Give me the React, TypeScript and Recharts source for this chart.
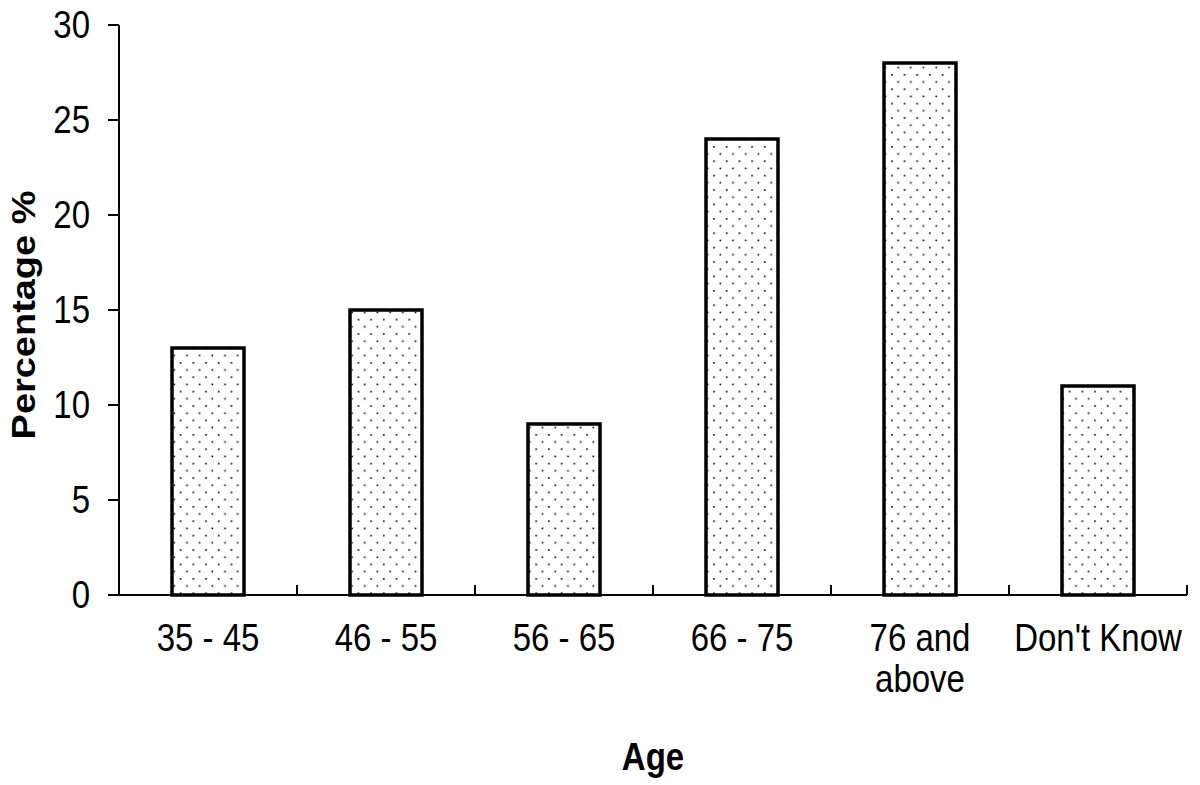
import React from "react";
import { BarChart, Bar, XAxis, YAxis } from "recharts";

// --- Data ---
const ageGroups = ["35 - 45", "46 - 55", "56 - 65", "66 - 75", "76 and above", "Don't Know"];
const percentages = [13, 15, 9, 24, 28, 11];
const yTicks = [0, 5, 10, 15, 20, 25, 30];

const chartData = ageGroups.map((age, i) => ({ age, value: percentages[i] }));

const FONT = "'Liberation Sans', Arial, sans-serif";
const STRETCH = 1.15; // the source text is a bit taller than it is wide

// custom x tick: label (wrapped at "and") plus tick marks on the category boundaries
const AgeTick = (props: any) => {
  const { x, y, payload, index } = props;
  const half = payload.offset || 0;
  const label: string = payload.value;
  const lines = label === "76 and above" ? ["76 and", "above"] : [label];
  const isLast = index === ageGroups.length - 1;
  return (
    <g>
      <line x1={x - half} x2={x - half} y1={y} y2={y - 10} stroke="#000" strokeWidth={2} />
      {isLast && <line x1={x + half} x2={x + half} y1={y} y2={y - 10} stroke="#000" strokeWidth={2} />}
      <text
        transform={`translate(${x} ${y + 56}) scale(1 ${STRETCH})`}
        textAnchor="middle"
        fontFamily={FONT}
        fontSize={33}
        fill="#000"
      >
        {lines.map((l, i) => (
          <tspan key={i} x={0} dy={i === 0 ? 0 : 41 / STRETCH}>
            {l}
          </tspan>
        ))}
      </text>
    </g>
  );
};

const PctTick = (props: any) => {
  const { x, y, payload } = props;
  return (
    <text
      transform={`translate(${x} ${y}) scale(1 ${STRETCH})`}
      textAnchor="end"
      dominantBaseline="central"
      fontFamily={FONT}
      fontSize={33}
      fill="#000"
    >
      {payload.value}
    </text>
  );
};

export default function App() {
  return (
    <div style={{ position: "absolute", left: 0, top: 0, background: "#fff" }}>
      <BarChart
        width={1200}
        height={785}
        data={chartData}
        margin={{ top: 25, right: 13, left: 0, bottom: 0 }}
      >
        <defs>
          {/* dotted fill, staggered rows */}
          <pattern id="dots" width={12.7} height={14.4} patternUnits="userSpaceOnUse">
            <rect x={2} y={2} width={1.6} height={1.6} fill="#000" />
            <rect x={8.35} y={9.2} width={1.6} height={1.6} fill="#000" />
          </pattern>
        </defs>

        <XAxis
          dataKey="age"
          height={190}
          interval={0}
          tickSize={0}
          tickMargin={0}
          tickLine={false}
          axisLine={{ stroke: "#000", strokeWidth: 2 }}
          tick={<AgeTick />}
          label={{
            content: () => (
              <text
                transform={`translate(653 770) scale(1 ${STRETCH})`}
                textAnchor="middle"
                fontFamily={FONT}
                fontSize={33}
                fontWeight="bold"
                fill="#000"
              >
                Age
              </text>
            ),
          }}
        />
        <YAxis
          width={119}
          domain={[0, 30]}
          ticks={yTicks}
          interval={0}
          tickSize={11}
          tickMargin={18}
          axisLine={{ stroke: "#000", strokeWidth: 2 }}
          tickLine={{ stroke: "#000", strokeWidth: 2 }}
          tick={<PctTick />}
          label={{
            content: () => (
              <text
                transform={`translate(24 315) rotate(-90) scale(${STRETCH} 1)`}
                textAnchor="middle"
                dominantBaseline="central"
                fontFamily={FONT}
                fontSize={33}
                fontWeight="bold"
                fill="#000"
              >
                Percentage %
              </text>
            ),
          }}
        />

        <Bar
          dataKey="value"
          barSize={72}
          fill="url(#dots)"
          stroke="#000"
          strokeWidth={3.5}
          isAnimationActive={false}
        />
      </BarChart>
    </div>
  );
}
